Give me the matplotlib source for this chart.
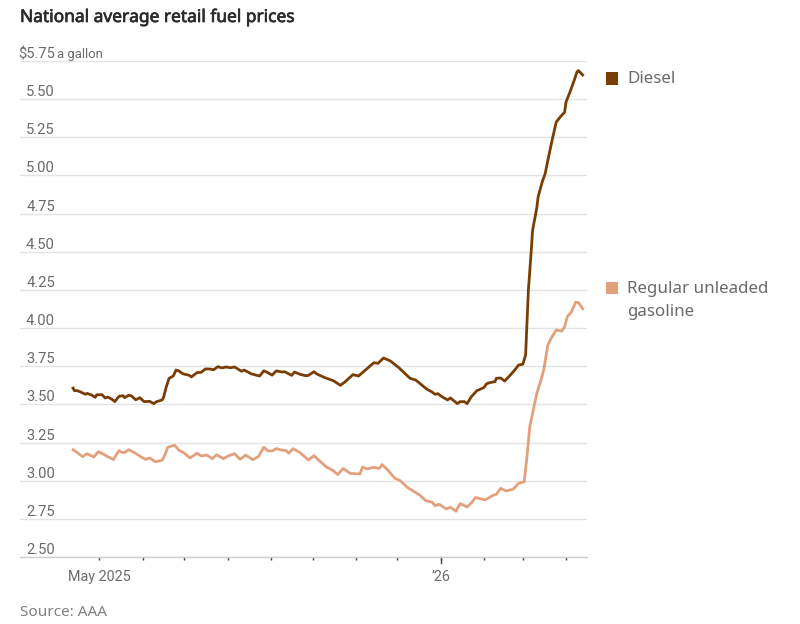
import matplotlib
matplotlib.use('Agg')
import matplotlib.pyplot as plt
import matplotlib.patheffects as pe
import pandas as pd
from matplotlib.patches import Rectangle

W, H = 800, 624

# days counted from May 1, 2025
diesel_days = [-19, -18, -16, -14, -10, -9, -6, -3, -2, 2, 4, 6, 9, 11, 14, 17, 18, 21, 23, 26, 29, 32, 36, 39, 41, 45,
               46, 48, 50, 53, 55, 57, 60, 64, 66, 70, 73, 76, 79, 82, 85, 88, 91, 94, 97, 102, 104, 109, 115, 118,
               120, 124, 127, 131, 133, 138, 140, 144, 148, 150, 154, 156, 161, 168, 173, 176, 182, 186, 191, 197,
               200, 204, 209, 215, 223, 227, 230, 235, 239, 241, 243, 246, 250, 252, 257, 259, 262, 264, 267, 271,
               276, 278, 280, 284, 285, 288, 291, 295, 298, 301, 304, 306, 308, 310, 311, 314, 315, 318, 320, 322,
               325, 328, 331, 334, 335, 338, 340, 343, 344, 347]
diesel_price = [3.607, 3.59, 3.59, 3.583, 3.566, 3.572, 3.563, 3.546, 3.563, 3.563, 3.542, 3.548, 3.533, 3.518, 3.553,
                3.557, 3.544, 3.56, 3.555, 3.53, 3.544, 3.518, 3.52, 3.505, 3.518, 3.529,
                3.546, 3.616, 3.671, 3.686, 3.725, 3.719, 3.70, 3.692, 3.68, 3.708, 3.71, 3.732, 3.732, 3.727, 3.747,
                3.739, 3.745, 3.74, 3.745, 3.717, 3.725, 3.70, 3.686, 3.72,
                3.712, 3.692, 3.72, 3.712, 3.714, 3.69, 3.712, 3.697, 3.688, 3.69, 3.714, 3.70, 3.678, 3.655, 3.625,
                3.645, 3.695, 3.686, 3.725, 3.773,
                3.769, 3.804, 3.784, 3.74, 3.671, 3.66, 3.638, 3.60, 3.58, 3.566, 3.57, 3.55, 3.529, 3.542, 3.505,
                3.518, 3.518, 3.505, 3.55, 3.59,
                3.61, 3.635, 3.642, 3.649, 3.671, 3.673, 3.653, 3.692, 3.723, 3.758, 3.763, 3.824, 4.25, 4.50, 4.64,
                4.785, 4.86, 4.96, 5.01, 5.10,
                5.23, 5.35, 5.385, 5.414, 5.48, 5.55, 5.60, 5.68, 5.687, 5.658]

gas_days = [-19, -16, -12, -9, -4, -1, 3, 6, 10, 14, 16, 18, 21, 25, 30, 33, 36, 40, 45, 47, 49, 54, 57, 61, 65, 70,
            73, 77, 81, 84, 89, 92, 97, 101, 105, 110, 114, 118, 121, 124, 127, 131, 134, 136, 139, 144, 150, 154,
            158, 163, 168, 171, 175, 180, 187, 189, 192, 197, 201, 203, 207, 212, 216, 221, 225, 230, 234, 239, 241,
            244, 249, 252, 256, 259, 264, 267, 270, 272, 277, 283, 285, 288, 292, 297, 301, 305, 307, 309, 311, 314,
            317, 319, 322, 325, 328, 332, 334, 336, 339, 342, 344, 347]
gas_price = [3.203, 3.184, 3.157, 3.177, 3.155, 3.19, 3.173, 3.157, 3.138, 3.197, 3.186, 3.184, 3.203, 3.184, 3.155,
             3.14, 3.149, 3.124, 3.134, 3.168, 3.219, 3.232, 3.20, 3.18, 3.149, 3.18,
             3.162, 3.168, 3.144, 3.17, 3.144, 3.16, 3.177, 3.14, 3.168, 3.138, 3.157, 3.219, 3.195, 3.195, 3.21, 3.20,
             3.197, 3.18, 3.21, 3.184, 3.136, 3.164,
             3.13, 3.09, 3.065, 3.04, 3.08, 3.048, 3.044, 3.09, 3.077, 3.088, 3.08, 3.105, 3.07, 3.016, 3.0, 2.957,
             2.934, 2.906, 2.871, 2.858, 2.836,
             2.845, 2.815, 2.826, 2.80, 2.85, 2.828, 2.854, 2.89, 2.885, 2.874, 2.906, 2.91, 2.95, 2.933, 2.944, 2.983,
             2.993, 3.157, 3.354, 3.44, 3.57,
             3.66, 3.725, 3.89, 3.944, 3.987, 3.98, 4.01, 4.075, 4.108, 4.17, 4.166, 4.127]

y_ticks = [2.5, 2.75, 3.0, 3.25, 3.5, 3.75, 4.0, 4.25, 4.5, 4.75, 5.0, 5.25, 5.5, 5.75]
month_ticks = pd.date_range('2025-05-01', '2026-04-01', freq='MS')

DIESEL_COLOR = '#7a3e05'
GAS_COLOR = '#e3a07c'
TEXT_COLOR = '#6a6a6a'
GRID_COLOR = '#e4e4e4'
TICK_FONT = ['Roboto', 'DejaVu Sans']
BODY_FONT = ['Noto Sans', 'DejaVu Sans']


def to_dates(days):
    return pd.Timestamp('2025-05-01') + pd.to_timedelta(days, unit='D')


def fx(x):
    return x / W


def fy(y):
    return 1 - y / H


fig = plt.figure(figsize=(W / 100, H / 100), dpi=100)
ax = fig.add_axes([fx(20), fy(557), (587 - 20) / W, (557 - 61) / H])

ax.set_ylim(2.5, 5.75)
may_day = pd.Timestamp('2025-05-01')
px_per_day = 1.3925
ax.set_xlim(may_day - pd.Timedelta(days=(99.5 - 20) / px_per_day),
            may_day + pd.Timedelta(days=(587 - 99.5) / px_per_day))

for s in ['top', 'left', 'right']:
    ax.spines[s].set_visible(False)
ax.spines['bottom'].set_color('#cfcfcf')
ax.spines['bottom'].set_linewidth(1)

ax.set_yticks(y_ticks)
ax.set_yticklabels([])
ax.tick_params(axis='y', length=0)
ax.grid(axis='y', color=GRID_COLOR, lw=1)
ax.set_axisbelow(True)

ax.set_xticks(month_ticks)
ax.set_xticklabels([])
ax.tick_params(axis='x', length=2.5, width=1, color='#444444')

ax.plot(to_dates(gas_days), gas_price, color=GAS_COLOR, lw=2.0, solid_joinstyle='round')
ax.plot(to_dates(diesel_days), diesel_price, color=DIESEL_COLOR, lw=2.0, solid_joinstyle='round')

# y labels sit on top of the gridlines
trans = ax.get_yaxis_transform()
for val in y_ticks:
    lab = f'${val:.2f}' if val == 5.75 else f'{val:.2f}'
    ax.text(0.0615, val + 0.0, lab, transform=trans, ha='right', va='bottom', fontsize=10.6,
            color=TEXT_COLOR, family=TICK_FONT)
ax.text(0.0655, 5.75 + 0.0, 'a gallon', transform=trans, ha='left', va='bottom', fontsize=9.4,
        color=TEXT_COLOR, family=TICK_FONT)

# longer tick for the new year
jan_tick = pd.Timestamp('2026-01-01')
ax.plot([jan_tick, jan_tick], [2.5, 2.5 - 6 / 152.6], color='#444444', lw=1, clip_on=False)

fig.text(fx(99.5), fy(577), 'May 2025', ha='center', va='center', fontsize=10.4, color=TEXT_COLOR, family=TICK_FONT)
fig.text(fx(441), fy(577), "\u201926", ha='center', va='center', fontsize=10.4, color=TEXT_COLOR, family=TICK_FONT)

title = fig.text(fx(20), fy(17), 'National average retail fuel prices', ha='left', va='center', fontsize=12.5,
                 color='#2b2b2b', family=BODY_FONT)
title.set_path_effects([pe.withStroke(linewidth=0.5, foreground='#2b2b2b')])
fig.text(fx(20), fy(613), 'Source: AAA', ha='left', va='center', fontsize=11, color='#808080', family=BODY_FONT)

# legend
fig.add_artist(Rectangle((fx(606), fy(85)), 12 / W, 12.5 / H, transform=fig.transFigure, color=DIESEL_COLOR, lw=0))
fig.add_artist(Rectangle((fx(606), fy(294)), 12 / W, 12.5 / H, transform=fig.transFigure, color=GAS_COLOR, lw=0))
fig.text(fx(627), fy(79), 'Diesel', ha='left', va='center', fontsize=12.2, color=TEXT_COLOR, family=BODY_FONT)
fig.text(fx(627), fy(289), 'Regular unleaded', ha='left', va='center', fontsize=12.2, color=TEXT_COLOR, family=BODY_FONT)
fig.text(fx(627), fy(312), 'gasoline', ha='left', va='center', fontsize=12.2, color=TEXT_COLOR, family=BODY_FONT)

fig.savefig('out.png', dpi=100)
